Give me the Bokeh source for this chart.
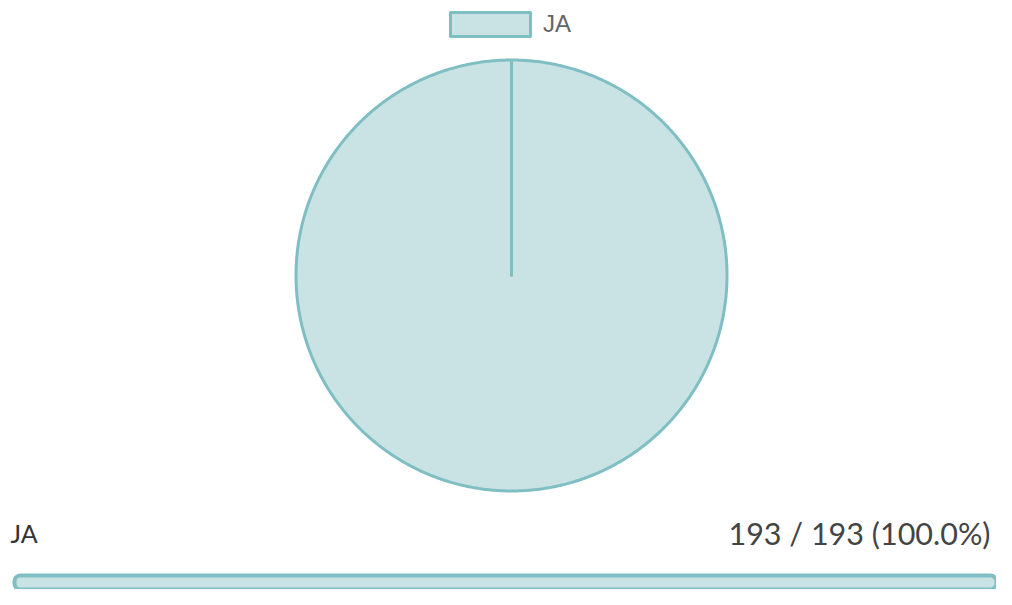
import math
from bokeh.plotting import figure
from bokeh.models import Range1d, Label, Legend
from bokeh.embed import file_html
from bokeh.resources import INLINE

# ---- data ----
categories = ["JA"]
counts = [193]
total = 193
bar_label = "JA"

FILL = "#c9e3e5"
LINE = "#7fbfc3"

W, H = 996, 589
p = figure(width=W, height=H, output_backend="svg", toolbar_location=None,
           x_range=Range1d(0, W), y_range=Range1d(H, 0),
           min_border=0, outline_line_color=None)
p.axis.visible = False
p.grid.visible = False

# ---- pie (center / radius in screen-like units, angles from data) ----
CX, CY, R = 511, 275, 215.5
s = sum(counts)
xs, ys = [], []
acc = 0.0
for c in counts:
    a0 = math.pi / 2 - 2 * math.pi * acc / s
    acc += c
    a1 = math.pi / 2 - 2 * math.pi * acc / s
    n = max(2, int(abs(a1 - a0) / (2 * math.pi) * 720))
    px, py = [CX], [CY]
    for k in range(n + 1):
        t = a0 + (a1 - a0) * k / n
        px.append(CX + R * math.cos(t))
        py.append(CY - R * math.sin(t))
    xs.append(px)
    ys.append(py)

r = p.patches(xs=xs, ys=ys, fill_color=FILL, line_color=LINE, line_width=3,
              line_join="round")

legend = Legend(items=[(categories[0], [r])], location=(440, 550),
                orientation="horizontal", padding=0, margin=0, spacing=0,
                glyph_width=100, glyph_height=30, label_standoff=3,
                label_text_font="Liberation Sans", label_text_font_size="24px",
                label_text_color="#666666", label_text_baseline="middle",
                border_line_color=None, background_fill_alpha=0)
p.add_layout(legend)

# ---- progress bar (own x scale: 0..total) ----
left_px, right_px = 14, 1007
k = (right_px - left_px) / total
p.extra_x_ranges = {"bar": Range1d(-left_px / k, (W - left_px) / k)}
p.hbar(y=[595], left=[0], right=[counts[0]], height=40, x_range_name="bar",
       fill_color=FILL, line_color=LINE, line_width=4, border_radius=6)

p.add_layout(Label(x=10, y=532, text=bar_label,
                   text_font="Lato", text_font_size="25px", text_color="#333333",
                   text_baseline="middle", text_align="left"))
pct = 100.0 * counts[0] / total
p.add_layout(Label(x=990, y=532,
                   text=f"{counts[0]} / {total} ({pct:.1f}%)",
                   text_font="Lato", text_font_size="30.5px", text_color="#444444",
                   text_baseline="middle", text_align="right"))

open("out.html", "w").write(file_html(p, INLINE))
